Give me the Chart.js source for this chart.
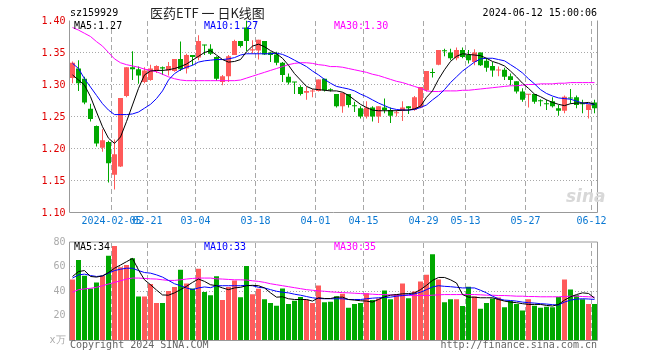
<!DOCTYPE html>
<html lang="zh">

<head>
    <meta charset="UTF-8">
    <title>医药ETF 日K线图</title>
    <style>
        body {
            margin: 0;
            background: #fff;
        }

        #wrap {
            position: relative;
            width: 660px;
            height: 360px;
            overflow: hidden;
        }

        canvas {
            position: absolute;
            left: 0;
        }

        .txt {
            position: absolute;
            font: 10px "DejaVu Sans Mono", monospace;
            line-height: 12px;
            white-space: nowrap;
        }

        .title {
            position: absolute;
            font: 13px "Noto Sans CJK SC", sans-serif;
            line-height: 14px;
            color: #222;
            white-space: nowrap;
        }

        .sina {
            position: absolute;
            font: italic bold 17px "DejaVu Sans", sans-serif;
            color: #d8d8d8;
        }
    </style>
    <script src="https://cdn.jsdelivr.net/npm/chart.js"></script>
</head>

<body>
    <div id="wrap">
        <canvas id="kline" width="660" height="232" style="top:0"></canvas>
        <canvas id="vol" width="660" height="128" style="top:232px"></canvas>

        <div class="txt" style="left:70px;top:7px">sz159929</div>
        <div class="title" style="left:150px;top:6px">医药ETF 一 日K线图</div>
        <div class="txt" style="right:63px;top:7px">2024-06-12 15:00:06</div>

        <div class="txt" style="left:74px;top:20px;color:#000">MA5:1.27</div>
        <div class="txt" style="left:204px;top:20px;color:#0000ff">MA10:1.27</div>
        <div class="txt" style="left:334px;top:20px;color:#ff00ff">MA30:1.30</div>

        <div class="txt" style="left:74px;top:241px;color:#000">MA5:34</div>
        <div class="txt" style="left:204px;top:241px;color:#0000ff">MA10:33</div>
        <div class="txt" style="left:334px;top:241px;color:#ff00ff">MA30:35</div>

        <div class="sina" style="left:566px;top:186px">sina</div>

        <div class="txt" style="left:70px;top:339px;color:#666">Copyright 2024 SINA.COM</div>
        <div class="txt" style="right:63px;top:339px;color:#666">http://finance.sina.com.cn</div>
    </div>

    <script>
        // 交易日
        const dates = [
            '2024-01-25', '2024-01-26', '2024-01-29', '2024-01-30', '2024-01-31',
            '2024-02-01', '2024-02-02', '2024-02-05', '2024-02-06', '2024-02-07', '2024-02-08',
            '2024-02-19', '2024-02-20', '2024-02-21', '2024-02-22', '2024-02-23',
            '2024-02-26', '2024-02-27', '2024-02-28', '2024-02-29', '2024-03-01',
            '2024-03-04', '2024-03-05', '2024-03-06', '2024-03-07', '2024-03-08',
            '2024-03-11', '2024-03-12', '2024-03-13', '2024-03-14', '2024-03-15',
            '2024-03-18', '2024-03-19', '2024-03-20', '2024-03-21', '2024-03-22',
            '2024-03-25', '2024-03-26', '2024-03-27', '2024-03-28', '2024-03-29',
            '2024-04-01', '2024-04-02', '2024-04-03', '2024-04-08', '2024-04-09',
            '2024-04-10', '2024-04-11', '2024-04-12', '2024-04-15', '2024-04-16',
            '2024-04-17', '2024-04-18', '2024-04-19', '2024-04-22', '2024-04-23',
            '2024-04-24', '2024-04-25', '2024-04-26', '2024-04-29', '2024-04-30',
            '2024-05-06', '2024-05-07', '2024-05-08', '2024-05-09', '2024-05-10',
            '2024-05-13', '2024-05-14', '2024-05-15', '2024-05-16', '2024-05-17',
            '2024-05-20', '2024-05-21', '2024-05-22', '2024-05-23', '2024-05-24',
            '2024-05-27', '2024-05-28', '2024-05-29', '2024-05-30', '2024-05-31',
            '2024-06-03', '2024-06-04', '2024-06-05', '2024-06-06', '2024-06-07',
            '2024-06-11', '2024-06-12'
        ];

        const tickDates = ['2024-02-05', '2024-02-21', '2024-03-04', '2024-03-18', '2024-04-01',
            '2024-04-15', '2024-04-29', '2024-05-13', '2024-05-27', '2024-06-12'];
        const tickText = ['2024-02-05', '02-21', '03-04', '03-18', '04-01',
            '04-15', '04-29', '05-13', '05-27', '06-12'];

        // 网格刻度
        const priceLevels = [1.15, 1.20, 1.25, 1.30, 1.35];
        const volLevels = [20, 40, 60];

        const open = [
            1.310, 1.325, 1.309, 1.262, 1.235, 1.201, 1.210, 1.159, 1.172, 1.282,
            1.327, 1.324, 1.304, 1.307, 1.321, 1.327, 1.322, 1.321, 1.340, 1.325,
            1.346, 1.342, 1.362, 1.356, 1.343, 1.304, 1.313, 1.346, 1.368, 1.389,
            1.353, 1.353, 1.368, 1.350, 1.347, 1.334, 1.312, 1.304, 1.296, 1.287,
            1.289, 1.290, 1.309, 1.292, 1.285, 1.266, 1.285, 1.267, 1.263, 1.250,
            1.264, 1.250, 1.264, 1.260, 1.255, 1.259, 1.266, 1.260, 1.264, 1.291,
            1.319, 1.331, 1.353, 1.350, 1.341, 1.354, 1.346, 1.335, 1.350, 1.337,
            1.329, 1.322, 1.323, 1.313, 1.305, 1.289, 1.284, 1.285, 1.275, 1.270,
            1.274, 1.263, 1.259, 1.279, 1.280, 1.270, 1.260, 1.272
        ];
        const high = [
            1.336, 1.338, 1.312, 1.270, 1.236, 1.230, 1.212, 1.214, 1.279, 1.327,
            1.352, 1.328, 1.327, 1.331, 1.330, 1.328, 1.335, 1.340, 1.367, 1.348,
            1.346, 1.377, 1.362, 1.363, 1.344, 1.315, 1.346, 1.370, 1.368, 1.400,
            1.369, 1.370, 1.368, 1.351, 1.351, 1.335, 1.317, 1.304, 1.299, 1.296,
            1.293, 1.308, 1.309, 1.294, 1.285, 1.287, 1.285, 1.273, 1.266, 1.274,
            1.266, 1.266, 1.278, 1.264, 1.260, 1.274, 1.266, 1.282, 1.296, 1.321,
            1.325, 1.354, 1.356, 1.356, 1.358, 1.358, 1.354, 1.355, 1.350, 1.341,
            1.335, 1.328, 1.326, 1.317, 1.305, 1.294, 1.285, 1.285, 1.277, 1.276,
            1.280, 1.268, 1.283, 1.293, 1.283, 1.276, 1.269, 1.276
        ];
        const low = [
            1.302, 1.290, 1.269, 1.242, 1.203, 1.195, 1.147, 1.136, 1.171, 1.280,
            1.307, 1.301, 1.302, 1.306, 1.318, 1.315, 1.314, 1.320, 1.321, 1.317,
            1.330, 1.338, 1.346, 1.346, 1.306, 1.299, 1.304, 1.346, 1.358, 1.352,
            1.348, 1.339, 1.346, 1.335, 1.330, 1.304, 1.300, 1.285, 1.283, 1.276,
            1.280, 1.289, 1.289, 1.289, 1.264, 1.256, 1.264, 1.257, 1.247, 1.247,
            1.242, 1.240, 1.255, 1.240, 1.250, 1.243, 1.254, 1.259, 1.263, 1.289,
            1.311, 1.330, 1.344, 1.338, 1.338, 1.341, 1.333, 1.330, 1.329, 1.320,
            1.312, 1.313, 1.307, 1.299, 1.286, 1.273, 1.264, 1.270, 1.266, 1.260,
            1.264, 1.251, 1.255, 1.270, 1.263, 1.255, 1.247, 1.255
        ];
        const close = [
            1.334, 1.302, 1.272, 1.246, 1.208, 1.213, 1.177, 1.191, 1.279, 1.327,
            1.324, 1.314, 1.322, 1.325, 1.329, 1.325, 1.329, 1.340, 1.324, 1.346,
            1.343, 1.368, 1.361, 1.348, 1.309, 1.313, 1.344, 1.368, 1.360, 1.368,
            1.355, 1.370, 1.347, 1.346, 1.334, 1.315, 1.303, 1.303, 1.285, 1.290,
            1.290, 1.308, 1.291, 1.291, 1.266, 1.287, 1.268, 1.266, 1.250, 1.264,
            1.250, 1.266, 1.260, 1.251, 1.256, 1.264, 1.263, 1.280, 1.296, 1.321,
            1.318, 1.354, 1.352, 1.341, 1.354, 1.343, 1.338, 1.350, 1.330, 1.326,
            1.322, 1.323, 1.312, 1.307, 1.289, 1.276, 1.285, 1.273, 1.274, 1.269,
            1.266, 1.259, 1.281, 1.278, 1.268, 1.269, 1.269, 1.263
        ];

        // 成交量(万手)
        const volume = [
            49.5, 65.3, 52.6, 42.3, 47.1, 52.6, 68.8, 76.7, 59.5, 61.4,
            66.9, 35.7, 35.7, 45.8, 30.4, 30.4, 40.2, 43.4, 57.4, 46.3,
            42.3, 58.2, 39.4, 36.8, 52.1, 32.8, 43.4, 48.7, 35.2, 60.6,
            37.6, 42.1, 33.6, 30.4, 28.3, 42.3, 29.6, 32.3, 35.4, 33.1,
            30.4, 44.7, 31.0, 31.5, 36.0, 38.0, 26.5, 29.6, 30.4, 38.4,
            32.8, 34.1, 40.7, 33.6, 37.6, 46.3, 34.4, 39.7, 47.9, 53.4,
            70.1, 49.5, 31.0, 33.6, 33.6, 28.0, 43.7, 35.7, 25.7, 30.4,
            34.1, 34.9, 27.0, 32.0, 29.6, 24.3, 33.6, 28.3, 26.5, 27.5,
            27.0, 35.4, 49.5, 41.5, 36.8, 33.6, 29.6, 29.6
        ];

        // 均线(价格)
        const ma5 = [
            1.315, 1.307, 1.299, 1.281, 1.257, 1.234, 1.216, 1.208, 1.218, 1.242,
            1.268, 1.294, 1.315, 1.321, 1.322, 1.322, 1.323, 1.325, 1.328, 1.332,
            1.338, 1.344, 1.350, 1.353, 1.346, 1.339, 1.335, 1.336, 1.339, 1.351,
            1.360, 1.363, 1.359, 1.353, 1.348, 1.341, 1.330, 1.317, 1.307, 1.297,
            1.293, 1.292, 1.291, 1.290, 1.290, 1.288, 1.283, 1.276, 1.269, 1.264,
            1.260, 1.259, 1.259, 1.259, 1.259, 1.260, 1.260, 1.262, 1.266, 1.280,
            1.290, 1.308, 1.323, 1.336, 1.344, 1.348, 1.347, 1.346, 1.345, 1.341,
            1.336, 1.333, 1.329, 1.321, 1.312, 1.302, 1.294, 1.285, 1.281, 1.276,
            1.272, 1.269, 1.267, 1.270, 1.271, 1.271, 1.272, 1.269
        ];
        const ma10 = [
            1.333, 1.325, 1.309, 1.296, 1.283, 1.270, 1.260, 1.253, 1.253, 1.253,
            1.254, 1.257, 1.263, 1.269, 1.278, 1.290, 1.307, 1.317, 1.323, 1.327,
            1.330, 1.335, 1.337, 1.338, 1.339, 1.339, 1.340, 1.342, 1.346, 1.348,
            1.348, 1.348, 1.348, 1.348, 1.349, 1.347, 1.343, 1.338, 1.333, 1.328,
            1.321, 1.315, 1.308, 1.302, 1.297, 1.295, 1.293, 1.290, 1.285, 1.281,
            1.276, 1.271, 1.267, 1.263, 1.261, 1.260, 1.260, 1.261, 1.264, 1.268,
            1.276, 1.283, 1.292, 1.303, 1.312, 1.321, 1.328, 1.335, 1.340, 1.341,
            1.341, 1.339, 1.337, 1.331, 1.325, 1.318, 1.309, 1.301, 1.292, 1.286,
            1.282, 1.279, 1.278, 1.277, 1.274, 1.271, 1.270, 1.269
        ];
        const ma30 = [
            1.389, 1.385, 1.380, 1.375, 1.367, 1.360, 1.350, 1.340, 1.334, 1.331,
            1.329, 1.327, 1.324, 1.322, 1.320, 1.316, 1.312, 1.309, 1.307, 1.306,
            1.306, 1.306, 1.306, 1.306, 1.306, 1.306, 1.306, 1.306, 1.307, 1.310,
            1.313, 1.316, 1.319, 1.322, 1.325, 1.328, 1.331, 1.333, 1.334, 1.334,
            1.333, 1.331, 1.330, 1.328, 1.328, 1.327, 1.325, 1.323, 1.321, 1.319,
            1.316, 1.314, 1.311, 1.308, 1.305, 1.303, 1.300, 1.297, 1.294, 1.290,
            1.289, 1.289, 1.290, 1.290, 1.290, 1.291, 1.291, 1.292, 1.293, 1.294,
            1.295, 1.296, 1.297, 1.298, 1.298, 1.299, 1.300, 1.300, 1.301, 1.301,
            1.301, 1.302, 1.302, 1.303, 1.303, 1.303, 1.303, 1.303
        ];

        // 均线(成交量)
        const vma5 = [
            52.0, 56.0, 56.8, 52.0, 51.5, 52.5, 55.2, 58.7, 61.3, 64.0,
            66.7, 57.3, 49.3, 45.3, 41.0, 37.0, 36.8, 38.7, 41.3, 44.0,
            47.2, 49.9, 48.0, 45.3, 44.5, 42.7, 41.3, 42.7, 43.2, 44.5,
            44.8, 44.5, 42.7, 38.7, 35.2, 35.5, 33.9, 33.3, 33.3, 33.3,
            32.0, 34.7, 34.1, 34.1, 35.2, 35.2, 33.3, 32.8, 32.3, 32.0,
            31.2, 33.3, 35.5, 36.8, 37.3, 37.9, 38.1, 38.7, 41.3, 44.8,
            48.8, 51.2, 51.2, 49.3, 46.7, 37.3, 35.2, 35.2, 34.7, 34.7,
            34.7, 33.3, 32.0, 31.2, 30.7, 29.9, 29.3, 29.3, 29.3, 28.5,
            28.0, 29.3, 32.8, 35.5, 37.3, 38.7, 38.2, 34.5
        ];
        const vma10 = [
            50.7, 53.3, 53.9, 52.8, 52.0, 52.5, 54.7, 56.8, 57.9, 58.7,
            58.7, 56.8, 55.2, 54.7, 53.3, 51.5, 48.8, 46.1, 44.5, 42.7,
            41.3, 42.7, 43.5, 42.9, 44.5, 44.5, 44.5, 44.5, 44.5, 44.8,
            44.5, 43.2, 42.7, 41.3, 40.0, 39.2, 38.7, 37.6, 36.8, 35.7,
            34.7, 34.1, 33.9, 33.9, 33.9, 33.9, 33.3, 33.3, 33.3, 33.9,
            34.4, 34.7, 34.9, 35.2, 36.0, 36.5, 37.1, 37.9, 39.2, 41.3,
            43.5, 44.5, 44.0, 43.7, 43.2, 42.7, 42.7, 42.7, 40.8, 38.7,
            36.0, 33.9, 32.8, 32.5, 32.0, 31.2, 30.7, 30.4, 29.9, 29.6,
            29.1, 28.8, 31.2, 32.8, 33.6, 33.9, 33.7, 33.4
        ];
        const vma30 = [
            39.2, 41.3, 41.9, 42.4, 43.2, 44.5, 45.9, 47.2, 48.5, 49.9,
            50.7, 50.7, 50.4, 50.1, 49.9, 49.3, 48.8, 48.8, 49.3, 49.9,
            50.4, 50.7, 50.7, 50.7, 50.1, 49.9, 49.6, 49.3, 49.3, 49.1,
            48.5, 48.0, 47.2, 46.1, 45.3, 44.5, 43.7, 42.9, 42.1, 41.3,
            40.8, 40.3, 40.0, 39.5, 39.2, 38.9, 38.7, 38.4, 38.1, 37.9,
            37.6, 37.3, 37.3, 37.1, 36.8, 36.8, 36.5, 36.5, 36.5, 36.5,
            36.8, 37.1, 37.3, 37.3, 37.3, 37.3, 37.3, 37.3, 37.1, 36.8,
            36.8, 36.5, 36.5, 36.3, 36.0, 36.0, 35.7, 35.7, 35.5, 35.5,
            35.5, 35.5, 35.7, 36.0, 36.0, 35.7, 35.5, 35.2
        ];

        const UP = '#ff5a5a';
        const DOWN = '#00a800';
        const candleColor = close.map((c, i) => c >= open[i] ? UP : DOWN);
        const tickIdx = tickDates.map(d => dates.indexOf(d));
        const monoFont = { family: 'DejaVu Sans Mono', size: 10 };

        // 网格: 用 1px 小方块拼点线/虚线
        const framePlugin = {
            id: 'frame',
            beforeDatasetsDraw(chart, args, opts) {
                const a = chart.chartArea;
                const ctx = chart.ctx;
                const x = chart.scales.x;
                const y = chart.scales.y;
                const half = (x.getPixelForTick(1) - x.getPixelForTick(0)) / 2;
                const L = Math.floor(a.left), R = Math.floor(a.right);
                const T = Math.floor(a.top), B = Math.floor(a.bottom);
                ctx.save();
                ctx.fillStyle = '#a8a8a8';
                opts.levels.forEach(v => {
                    const py = Math.floor(y.getPixelForValue(v));
                    for (let px = L + 2; px < R; px += 3) ctx.fillRect(px, py, 1, 1);
                });
                tickIdx.forEach(i => {
                    const px = Math.floor(x.getPixelForTick(i) - half);
                    for (let py = T + 1; py < B; py += 8) ctx.fillRect(px, py, 1, Math.min(5, B - py));
                });
                ctx.restore();
            },
            afterDraw(chart, args, opts) {
                const a = chart.chartArea;
                const ctx = chart.ctx;
                ctx.save();
                ctx.strokeStyle = '#999';
                ctx.lineWidth = 1;
                ctx.beginPath();
                if (opts.top) {
                    ctx.moveTo(a.left, a.top);
                    ctx.lineTo(a.right, a.top);
                }
                ctx.moveTo(a.left, a.top);
                ctx.lineTo(a.left, a.bottom);
                ctx.lineTo(a.right, a.bottom);
                ctx.lineTo(a.right, a.top);
                ctx.stroke();
                ctx.restore();
            }
        };

        function xAxis(showLabels, height) {
            return {
                type: 'category',
                offset: true,
                grid: { display: false, drawTicks: false, tickLength: 0 },
                border: { display: false },
                ticks: {
                    display: showLabels,
                    autoSkip: false,
                    maxRotation: 0,
                    minRotation: 0,
                    padding: 3,
                    labelOffset: -3,
                    color: '#0a78d2',
                    font: monoFont,
                    callback: (v, i) => {
                        const k = tickIdx.indexOf(i);
                        return k < 0 ? '' : tickText[k];
                    }
                },
                afterFit: s => { s.height = height; }
            };
        }

        function maLine(data, color) {
            return {
                type: 'line',
                data: data,
                borderColor: color,
                borderWidth: 1,
                pointRadius: 0,
                tension: 0,
                order: 0
            };
        }

        new Chart(document.getElementById('kline'), {
            type: 'bar',
            data: {
                labels: dates,
                datasets: [
                    maLine(ma5, '#000000'),
                    maLine(ma10, '#0000ff'),
                    maLine(ma30, '#ff00ff'),
                    {
                        data: open.map((o, i) => [o, close[i]]),
                        backgroundColor: candleColor,
                        barThickness: 5,
                        minBarLength: 1,
                        grouped: false,
                        inflateAmount: 0,
                        order: 1
                    },
                    {
                        data: low.map((l, i) => [l, high[i]]),
                        backgroundColor: candleColor,
                        barThickness: 1,
                        minBarLength: 1,
                        grouped: false,
                        inflateAmount: 0,
                        order: 2
                    }
                ]
            },
            options: {
                responsive: false,
                devicePixelRatio: 1,
                animation: false,
                events: [],
                layout: { padding: { left: 0, right: 62.5, top: 20.5, bottom: 0 } },
                plugins: {
                    legend: { display: false },
                    tooltip: { enabled: false },
                    frame: { top: false, levels: priceLevels }
                },
                scales: {
                    x: xAxis(true, 19.5),
                    y: {
                        min: 1.10,
                        max: 1.40,
                        grid: { display: false, drawTicks: false, tickLength: 0 },
                        border: { display: false },
                        ticks: {
                            stepSize: 0.05,
                            padding: 4,
                            labelOffset: 1,
                            color: '#e00000',
                            font: monoFont,
                            callback: v => v.toFixed(2)
                        },
                        afterFit: s => { s.width = 69.5; }
                    }
                }
            },
            plugins: [framePlugin]
        });

        new Chart(document.getElementById('vol'), {
            type: 'bar',
            data: {
                labels: dates,
                datasets: [
                    maLine(vma5, '#000000'),
                    maLine(vma10, '#0000ff'),
                    maLine(vma30, '#ff00ff'),
                    {
                        data: volume,
                        backgroundColor: candleColor,
                        barThickness: 5,
                        grouped: false,
                        inflateAmount: 0,
                        order: 1
                    }
                ]
            },
            options: {
                responsive: false,
                devicePixelRatio: 1,
                animation: false,
                events: [],
                layout: { padding: { left: 0, right: 62.5, top: 8.5, bottom: 0 } },
                plugins: {
                    legend: { display: false },
                    tooltip: { enabled: false },
                    frame: { top: true, levels: volLevels }
                },
                scales: {
                    x: xAxis(false, 19.5),
                    y: {
                        min: 0,
                        max: 80,
                        grid: { display: false, drawTicks: false, tickLength: 0 },
                        border: { display: false },
                        ticks: {
                            stepSize: 20,
                            padding: 4,
                            color: '#aaa',
                            font: monoFont,
                            callback: v => v === 0 ? 'x万' : v
                        },
                        afterFit: s => { s.width = 69.5; }
                    }
                }
            },
            plugins: [framePlugin]
        });
    </script>
</body>

</html>
